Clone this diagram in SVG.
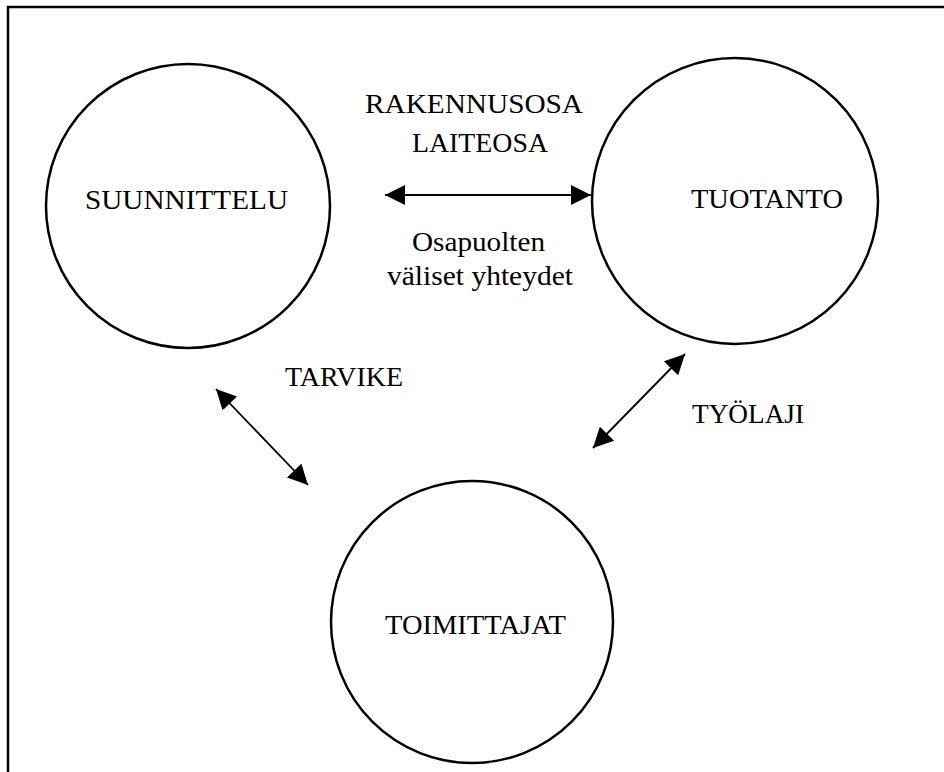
<svg xmlns="http://www.w3.org/2000/svg" width="944" height="772" viewBox="0 0 944 772">
  <style>
    .node { fill: none; stroke: #000; stroke-width: 2.5; }
    .lbl { font-family: 'Liberation Serif', 'Times New Roman', 'DejaVu Serif', serif; font-size: 28px; fill: #000; text-anchor: middle; }
    .link { stroke: #000; stroke-width: 1.8; fill: none; marker-start: url(#head); marker-end: url(#head); }
    .frame { stroke: #000; stroke-width: 2.5; fill: none; }
  </style>
  <defs>
    <marker id="head" viewBox="0 0 20 20" refX="20" refY="10" markerWidth="20" markerHeight="20" markerUnits="userSpaceOnUse" orient="auto-start-reverse">
      <path d="M0,0 L20,10 L0,20 Z" fill="#000"/>
    </marker>
  </defs>
  <rect width="944" height="772" fill="#fff"/>

  <!-- open frame: top and left edges only -->
  <path class="frame" d="M8,772 V7 H944"/>

  <g id="suunnittelu">
    <circle class="node" cx="188" cy="206" r="142"/>
    <text class="lbl" x="186.5" y="209" textLength="203" lengthAdjust="spacingAndGlyphs">SUUNNITTELU</text>
  </g>

  <g id="tuotanto">
    <circle class="node" cx="735" cy="201" r="143"/>
    <text class="lbl" x="767" y="208" textLength="152" lengthAdjust="spacingAndGlyphs">TUOTANTO</text>
  </g>

  <g id="toimittajat">
    <circle class="node" cx="472" cy="622" r="141"/>
    <text class="lbl" x="475.5" y="634" textLength="181" lengthAdjust="spacingAndGlyphs">TOIMITTAJAT</text>
  </g>

  <g id="connectors">
    <line class="link" x1="385" y1="195" x2="591" y2="195"/>
    <line class="link" x1="216" y1="389" x2="308" y2="485"/>
    <line class="link" x1="685" y1="354" x2="593" y2="448"/>
  </g>

  <g id="labels">
    <text class="lbl" x="474" y="113" textLength="218" lengthAdjust="spacingAndGlyphs">RAKENNUSOSA</text>
    <text class="lbl" x="480" y="152" textLength="136" lengthAdjust="spacingAndGlyphs">LAITEOSA</text>
    <text class="lbl" x="478.5" y="251" textLength="133" lengthAdjust="spacingAndGlyphs">Osapuolten</text>
    <text class="lbl" x="480" y="285" textLength="186" lengthAdjust="spacingAndGlyphs">väliset yhteydet</text>
    <text class="lbl" x="344" y="386" textLength="118" lengthAdjust="spacingAndGlyphs">TARVIKE</text>
    <text class="lbl" x="748" y="423" textLength="112" lengthAdjust="spacingAndGlyphs">TYÖLAJI</text>
  </g>
</svg>
